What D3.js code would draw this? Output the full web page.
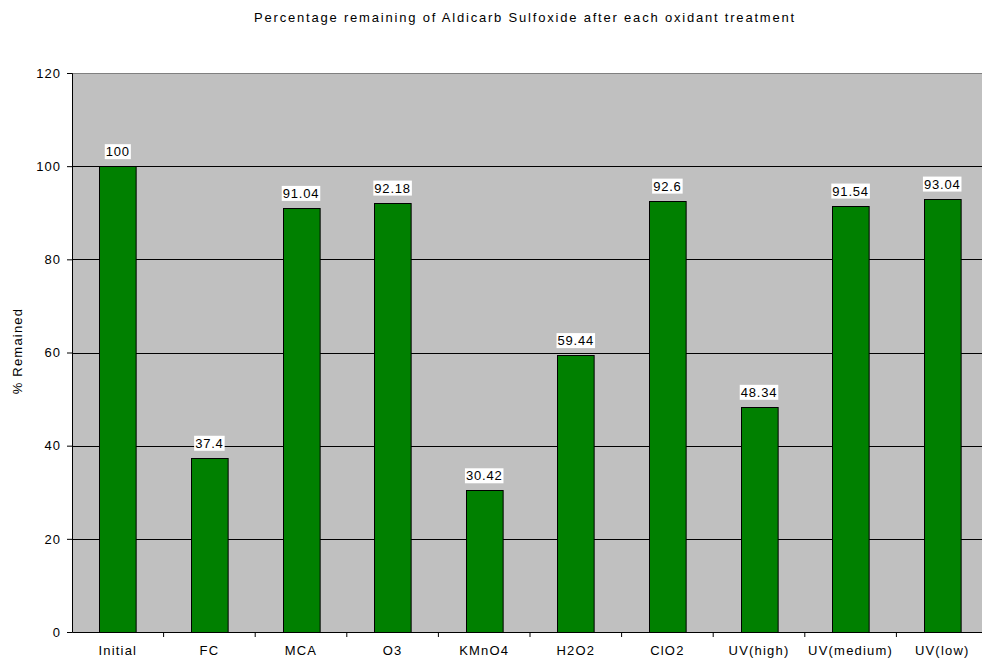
<!DOCTYPE html>
<html><head><meta charset="utf-8">
<script src="https://cdn.jsdelivr.net/npm/d3@7"></script>
<style>body{margin:0;background:#fff;} svg{display:block;font-family:"Liberation Sans",Arial,sans-serif;}</style>
</head><body>
<svg id="c" width="982" height="664"></svg>
<script>
const categories = ["Initial","FC","MCA","O3","KMnO4","H2O2","ClO2","UV(high)","UV(medium)","UV(low)"];
const values = [100,37.4,91.04,92.18,30.42,59.44,92.6,48.34,91.54,93.04];
const yTicks = [0,20,40,60,80,100,120];
const title = "Percentage remaining of Aldicarb Sulfoxide after each oxidant treatment";
const yLabel = "% Remained";

const svg = d3.select("#c");
const L = 72, R = 988, T = 73, B = 632;
const x = d3.scaleBand().domain(categories).range([L, R]).paddingInner(0.6).paddingOuter(0.3);
const y = d3.scaleLinear().domain([0,120]).range([B, T]);

svg.append("rect").attr("x", L).attr("y", T).attr("width", R-L).attr("height", B-T).attr("fill", "#c0c0c0");
svg.append("line").attr("x1", L).attr("x2", R).attr("y1", T+0.5).attr("y2", T+0.5).attr("stroke", "#808080");

svg.append("g").selectAll("line").data(yTicks.filter(d => d>0 && d<120)).join("line")
  .attr("x1", L).attr("x2", R).attr("y1", d => Math.round(y(d))+0.5).attr("y2", d => Math.round(y(d))+0.5)
  .attr("stroke", "#000");

svg.append("g").selectAll("rect").data(values).join("rect")
  .attr("x", (d,i) => Math.round(x(categories[i]))+0.5)
  .attr("y", d => Math.round(y(d))+0.5)
  .attr("width", x.bandwidth())
  .attr("height", d => B - Math.round(y(d)))
  .attr("fill", "#008000").attr("stroke", "#000");

const lab = svg.append("g").selectAll("g").data(values).join("g")
  .attr("transform", (d,i) => `translate(${x(categories[i]) + x.bandwidth()/2},${y(d) - 10})`);
lab.append("text").attr("text-anchor","middle").attr("font-size", 13).attr("letter-spacing", 0.8).attr("fill","#000")
  .text(d => String(d))
  .each(function(){
    const bb = this.getBBox();
    d3.select(this.parentNode).insert("rect","text").attr("x", bb.x-1).attr("y", bb.y).attr("width", bb.width+2).attr("height", bb.height).attr("fill","#fff");
  });

const ya = svg.append("g").attr("transform", `translate(${L},0)`)
  .call(d3.axisLeft(y).tickValues(yTicks).tickSize(5).tickPadding(6));
ya.select(".domain").attr("stroke","#000");
ya.selectAll("text").attr("font-size", 13).attr("letter-spacing", 1).attr("font-family","Liberation Sans, Arial, sans-serif").attr("fill","#000");

const xa = svg.append("g").attr("transform", `translate(0,${B})`)
  .call(d3.axisBottom(x).tickSize(0).tickPadding(14));
xa.select(".domain").attr("stroke","#000");
xa.selectAll("text").attr("font-size", 13).attr("letter-spacing", 1.2).attr("font-family","Liberation Sans, Arial, sans-serif").attr("fill","#000");
const step = x.step();
svg.append("g").selectAll("line").data(d3.range(1, categories.length)).join("line")
  .attr("x1", i => L + step*i).attr("x2", i => L + step*i)
  .attr("y1", B).attr("y2", B+5).attr("stroke","#000");

svg.append("text").attr("x", 525).attr("y", 22).attr("text-anchor","middle").attr("font-size", 13).attr("letter-spacing", 1.8).text(title);
svg.append("text").attr("transform","translate(22,351) rotate(-90)").attr("text-anchor","middle").attr("font-size", 13).attr("letter-spacing", 1.2).text(yLabel);
</script>
</body></html>
